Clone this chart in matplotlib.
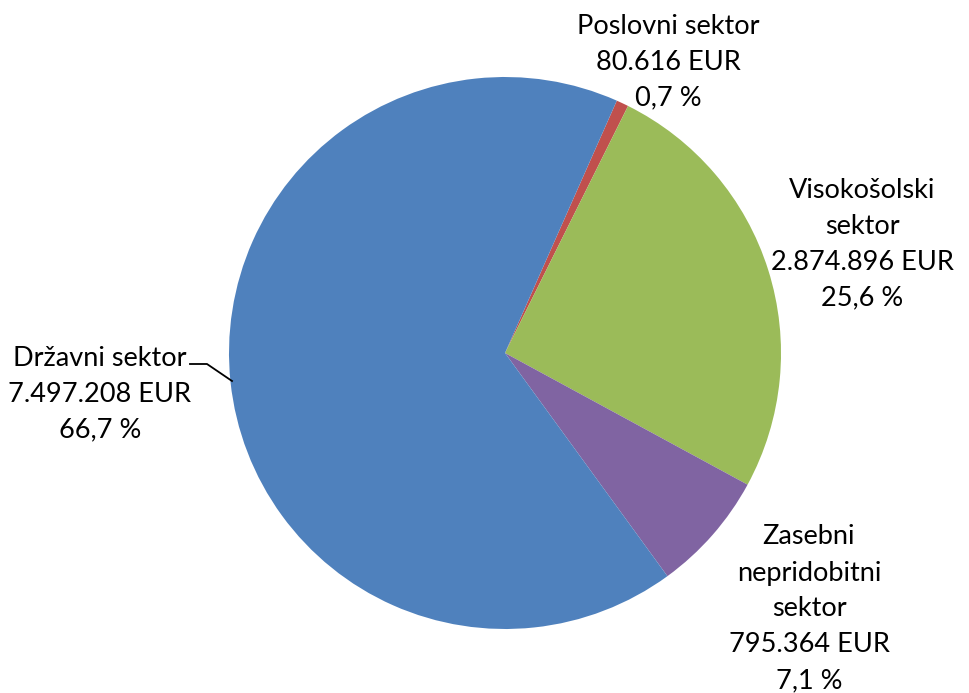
import matplotlib
matplotlib.use("Agg")
import matplotlib.pyplot as plt

categories = ["Poslovni sektor", "Visokošolski sektor", "Zasebni nepridobitni sektor", "Državni sektor"]
values = [80616, 2874896, 795364, 7497208]
label_names = ["Poslovni sektor", "Visokošolski\nsektor", "Zasebni\nnepridobitni\nsektor", "Državni sektor"]
colors = ["#C0504D", "#9BBB59", "#8064A2", "#4F81BD"]

W, H = 970, 693
cx, cy, R = 505, 353, 276

fig = plt.figure(figsize=(W / 100, H / 100), dpi=100)
ax = fig.add_axes([0, 0, 1, 1])

ax.pie(values, colors=colors, startangle=66.1, counterclock=False, radius=1,
       wedgeprops=dict(linewidth=0))

ax.set_aspect("auto")
ax.set_xlim(-cx / R, (W - cx) / R)
ax.set_ylim(-(H - cy) / R, cy / R)
ax.axis("off")

total = sum(values)

def fmt_eur(v):
    return f"{v:,}".replace(",", ".") + " EUR"

def fmt_pct(v):
    return f"{100 * v / total:.1f}".replace(".", ",") + " %"

def px(x, y):
    return ((x - cx) / R, (cy - y) / R)

label_pos = [(668, 62), (862, 244), (809, 609), (100, 394)]
for name, v, (lx, ly) in zip(label_names, values, label_pos):
    txt = f"{name}\n{fmt_eur(v)}\n{fmt_pct(v)}"
    x, y = px(lx, ly)
    ax.text(x, y, txt, ha="center", va="center", fontsize=19.5, family="Lato",
            linespacing=1.55, color="black")

# leader line for Državni sektor
pts = [px(190, 364), px(207, 364), px(232, 381)]
ax.plot([p[0] for p in pts], [p[1] for p in pts], color="black", lw=1.3)

fig.savefig("out.png", dpi=100)
